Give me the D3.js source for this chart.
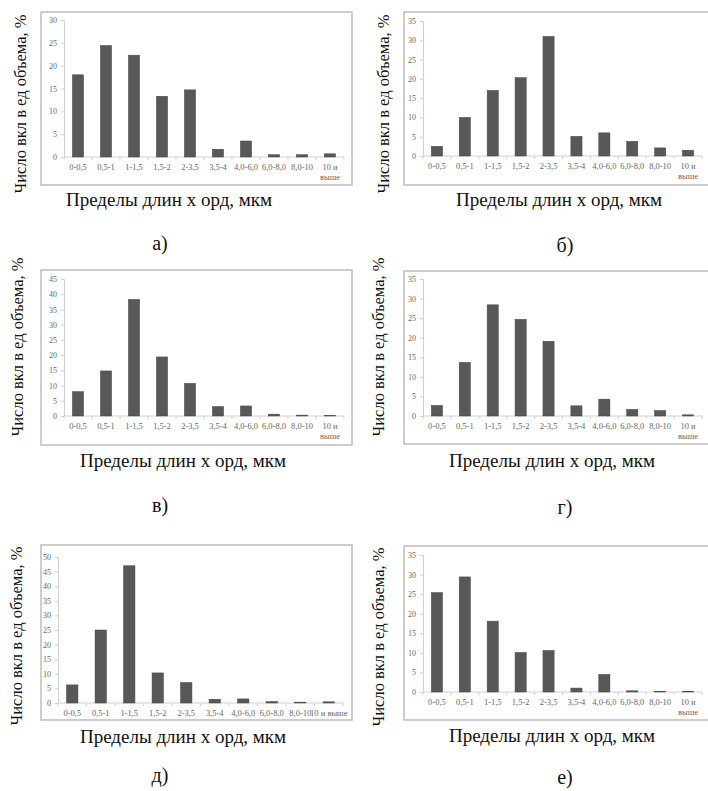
<!DOCTYPE html>
<html>
<head>
<meta charset="utf-8">
<script src="https://cdn.jsdelivr.net/npm/d3@7"></script>
<style>
  html, body { margin: 0; padding: 0; background: #fff; }
  svg { display: block; }
</style>
</head>
<body>
<div id="container"></div>
<script>
const categories = ["0-0,5", "0,5-1", "1-1,5", "1,5-2", "2-3,5", "3,5-4", "4,0-6,0", "6,0-8,0", "8,0-10", "10 и выше"];

const valuesA = [18, 24.4, 22.3, 13.3, 14.7, 1.7, 3.5, 0.5, 0.5, 0.7];
const valuesB = [2.5, 10, 17, 20.3, 31, 5.1, 6, 3.8, 2.1, 1.5];
const valuesV = [8, 14.8, 38.3, 19.4, 10.7, 3.1, 3.3, 0.6, 0.3, 0.2];
const valuesG = [2.7, 13.7, 28.4, 24.7, 19.1, 2.6, 4.3, 1.7, 1.4, 0.3];
const valuesD = [6.2, 25, 47, 10.3, 7, 1.3, 1.4, 0.5, 0.3, 0.4];
const valuesE = [25.4, 29.4, 18.1, 10.1, 10.6, 1, 4.5, 0.3, 0.2, 0.2];

const yMaxes = [30, 35, 45, 35, 50, 35];
const panelLetters = ["а)", "б)", "в)", "г)", "д)", "е)"];
const yTitle = "Число вкл в ед объема, %";
const xTitle = "Пределы длин х орд, мкм";

const width = 708;
const height = 791;
const serif = "Liberation Serif";

// where each panel sits on the page
const layout = [
    {box: [41, 12, 352, 185], x0: 64, x1: 344, y0: 157, y1: 20, yt: [26, 104], xt: [169, 206], lt: [160, 250], wrap: true},
    {box: [404, 12, 714, 185], x0: 423, x1: 702, y0: 156, y1: 21, yt: [389, 104], xt: [559, 206], lt: [565, 252], wrap: true},
    {box: [41, 270, 352, 445], x0: 64, x1: 344, y0: 416, y1: 279, yt: [23, 347], xt: [183, 467], lt: [160, 512], wrap: true},
    {box: [404, 271, 714, 444], x0: 423, x1: 702, y0: 416, y1: 279, yt: [384, 347], xt: [552, 467], lt: [565, 514], wrap: true},
    {box: [41, 545, 352, 720], x0: 58, x1: 343, y0: 703, y1: 557, yt: [22, 636], xt: [183, 743], lt: [160, 782], wrap: false},
    {box: [404, 546, 714, 720], x0: 423, x1: 702, y0: 692, y1: 555, yt: [384, 637], xt: [552, 742], lt: [565, 784], wrap: true}
];

const allValues = [valuesA, valuesB, valuesV, valuesG, valuesD, valuesE];

const svg = d3.select("#container").append("svg")
    .attr("width", width)
    .attr("height", height);

svg.append("rect")
    .attr("width", width)
    .attr("height", height)
    .attr("fill", "#fff");

allValues.forEach((values, i) => {
    const L = layout[i];
    const g = svg.append("g").attr("class", "panel");

    g.append("rect")
        .attr("x", L.box[0])
        .attr("y", L.box[1])
        .attr("width", L.box[2] - L.box[0])
        .attr("height", L.box[3] - L.box[1])
        .attr("fill", "none")
        .attr("stroke", "#bdbdbd")
        .attr("stroke-width", 1.5);

    const x = d3.scaleBand()
        .domain(categories)
        .range([L.x0, L.x1])
        .paddingInner(0.6)
        .paddingOuter(0.3);

    const y = d3.scaleLinear()
        .domain([0, yMaxes[i]])
        .range([L.y0, L.y1]);

    // y axis
    const yAxis = d3.axisLeft(y)
        .tickValues(d3.range(0, yMaxes[i] + 1, 5))
        .tickSize(3)
        .tickPadding(4);

    const ya = g.append("g")
        .attr("transform", `translate(${L.x0},0)`)
        .call(yAxis);
    ya.selectAll("path, line").attr("stroke", "#d0d0d0");
    ya.selectAll("text")
        .attr("fill", "#666")
        .attr("font-family", serif)
        .attr("font-size", 8);

    // x axis line with ticks between categories
    g.append("line")
        .attr("x1", L.x0).attr("x2", L.x1)
        .attr("y1", L.y0).attr("y2", L.y0)
        .attr("stroke", "#d0d0d0");

    g.selectAll("line.xtick")
        .data(d3.range(categories.length + 1))
        .enter()
        .append("line")
        .attr("class", "xtick")
        .attr("x1", k => L.x0 + k * x.step())
        .attr("x2", k => L.x0 + k * x.step())
        .attr("y1", L.y0)
        .attr("y2", L.y0 + 3)
        .attr("stroke", "#d0d0d0");

    // bars
    g.selectAll("rect.bar")
        .data(values)
        .enter()
        .append("rect")
        .attr("class", "bar")
        .attr("x", (d, k) => x(categories[k]))
        .attr("y", d => y(d))
        .attr("width", x.bandwidth())
        .attr("height", d => Math.max(y(0) - y(d), 0))
        .attr("fill", "#585858")
        .attr("stroke", "#444")
        .attr("stroke-width", 0.5);

    // category labels
    const labels = g.selectAll("text.cat")
        .data(categories)
        .enter()
        .append("text")
        .attr("class", "cat")
        .attr("x", c => x(c) + x.bandwidth() / 2)
        .attr("y", L.y0 + 13)
        .attr("text-anchor", "middle")
        .attr("font-family", serif)
        .attr("fill", "#666")
        .attr("font-size", 8.5);

    labels.each(function (c) {
        const t = d3.select(this);
        if (L.wrap && c.includes(" и ")) {
            const parts = c.split(" и ");
            t.append("tspan").attr("x", x(c) + x.bandwidth() / 2).text(parts[0] + " и");
            t.append("tspan").attr("x", x(c) + x.bandwidth() / 2).attr("dy", 9.5).text(parts[1]);
        } else {
            t.text(c);
        }
    });

    // titles
    g.append("text")
        .attr("transform", `translate(${L.yt[0]},${L.yt[1]}) rotate(-90)`)
        .attr("text-anchor", "middle")
        .attr("font-family", serif)
        .attr("font-size", 16.5)
        .attr("fill", "#111")
        .text(yTitle);

    g.append("text")
        .attr("x", L.xt[0])
        .attr("y", L.xt[1])
        .attr("text-anchor", "middle")
        .attr("font-family", serif)
        .attr("font-size", 19)
        .attr("fill", "#111")
        .text(xTitle);

    g.append("text")
        .attr("x", L.lt[0])
        .attr("y", L.lt[1])
        .attr("text-anchor", "middle")
        .attr("font-family", serif)
        .attr("font-size", 20)
        .attr("fill", "#111")
        .text(panelLetters[i]);
});
</script>
</body>
</html>
